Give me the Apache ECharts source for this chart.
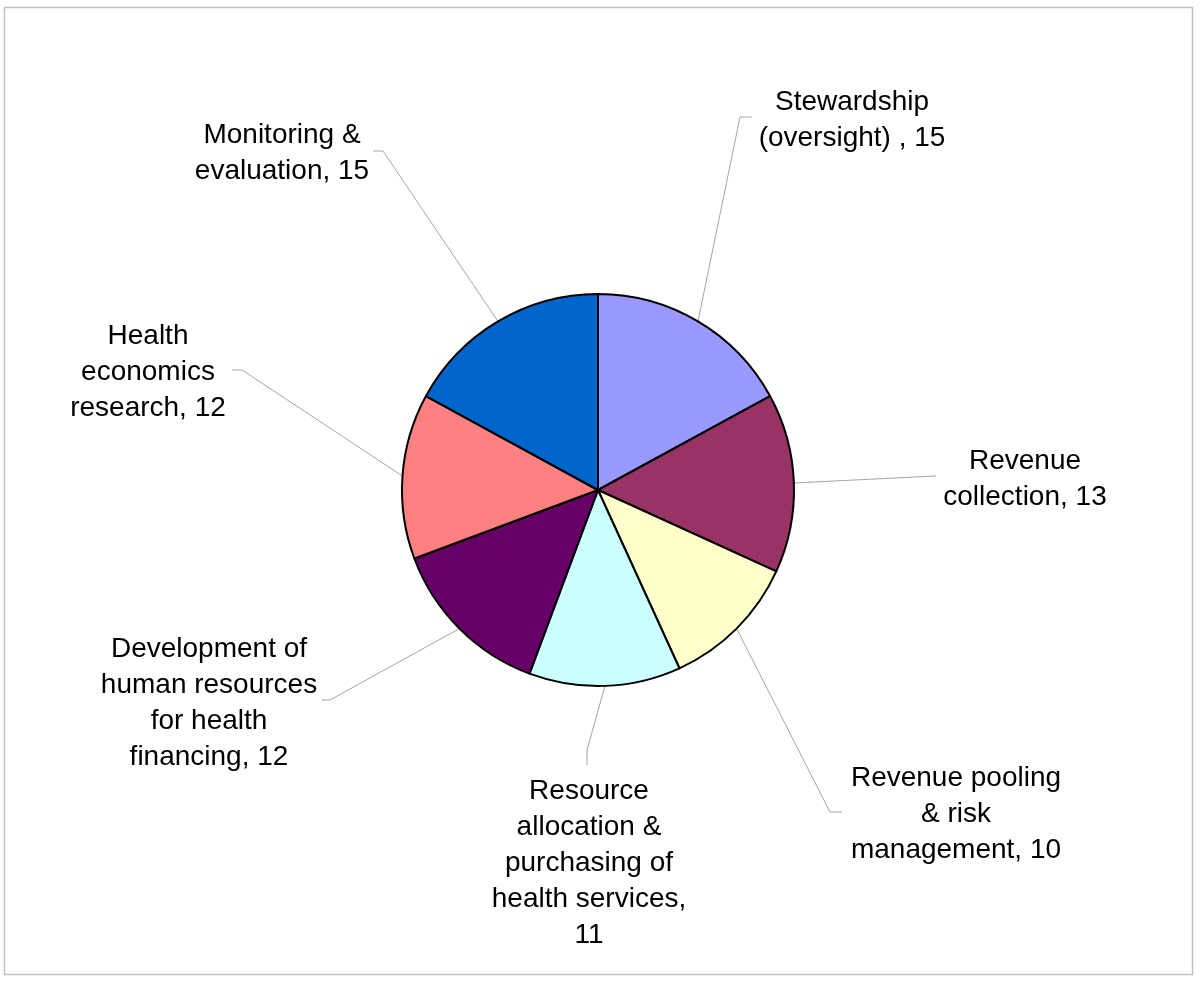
<!DOCTYPE html>
<html>
<head>
<meta charset="utf-8">
<script src="https://cdn.jsdelivr.net/npm/echarts@6/dist/echarts.min.js"></script>
<style>
  html, body { margin: 0; padding: 0; background: #ffffff; }
  #chart { width: 1200px; height: 983px; }
</style>
</head>
<body>
<div id="chart"></div>
<script>
// ---- data ----
var categories = [
  'Stewardship\n(oversight) ',
  'Revenue\ncollection',
  'Revenue pooling\n& risk\nmanagement',
  'Resource\nallocation &\npurchasing of\nhealth services',
  'Development of\nhuman resources\nfor health\nfinancing',
  'Health\neconomics\nresearch',
  'Monitoring &\nevaluation'
];
var values = [15, 13, 10, 11, 12, 12, 15];
var valueSeparators = [', ', ', ', ', ', ',\n', ', ', ', ', ', '];
var colors = ['#9999FF', '#993366', '#FFFFCC', '#CCFFFF', '#660066', '#FF8080', '#0066CC'];

// ---- layout (label centres and leader-line bends) ----
var pieCenter = [598, 490];
var pieRadius = 196;
var labelCenters = [
  [852, 120], [1025, 479], [956, 814], [589, 863], [209, 703], [148, 372], [282, 153]
];
var leaderGuides = [
  [740, 117, 752, 117],
  [935, 476, 936, 476],
  [830, 812, 842, 812],
  [587, 750, 587, 765],
  [330, 700, 322, 700],
  [242, 370, 232, 370],
  [383, 151, 373, 151]
];

var total = values.reduce(function (a, b) { return a + b; }, 0);
var midAngles = [];
(function () {
  var cum = 0;
  for (var i = 0; i < values.length; i++) {
    midAngles.push(2 * Math.PI * (cum + values[i] / 2) / total);
    cum += values[i];
  }
})();

var chart = echarts.init(document.getElementById('chart'), null, { renderer: 'canvas' });
chart.setOption({
  backgroundColor: '#ffffff',
  animation: false,
  graphic: [{
    type: 'rect',
    shape: { x: 4.5, y: 7.5, width: 1188, height: 967 },
    style: { fill: 'none', stroke: '#c0c0c0', lineWidth: 1.5 },
    z: -10
  }],
  series: [{
    type: 'pie',
    center: pieCenter,
    radius: pieRadius,
    startAngle: 90,
    clockwise: true,
    avoidLabelOverlap: false,
    data: values.map(function (v, i) {
      return { name: categories[i], value: v, itemStyle: { color: colors[i] } };
    }),
    itemStyle: { borderColor: '#000000', borderWidth: 2 },
    emphasis: { disabled: true },
    label: {
      show: true,
      position: 'outside',
      color: '#000000',
      fontFamily: 'Liberation Sans, Arial, sans-serif',
      fontSize: 28,
      lineHeight: 36,
      align: 'center',
      formatter: function (p) {
        return p.name + valueSeparators[p.dataIndex] + p.value;
      }
    },
    labelLine: {
      show: true,
      smooth: false,
      lineStyle: { color: '#a6a6a6', width: 1 }
    },
    labelLayout: function (p) {
      var i = p.dataIndex;
      var c = labelCenters[i], g = leaderGuides[i];
      var a = midAngles[i];
      var start = [pieCenter[0] + pieRadius * Math.sin(a), pieCenter[1] - pieRadius * Math.cos(a)];
      return {
        x: c[0], y: c[1],
        align: 'center', verticalAlign: 'middle',
        labelLinePoints: [start, [g[0], g[1]], [g[2], g[3]]]
      };
    }
  }]
});
</script>
</body>
</html>
